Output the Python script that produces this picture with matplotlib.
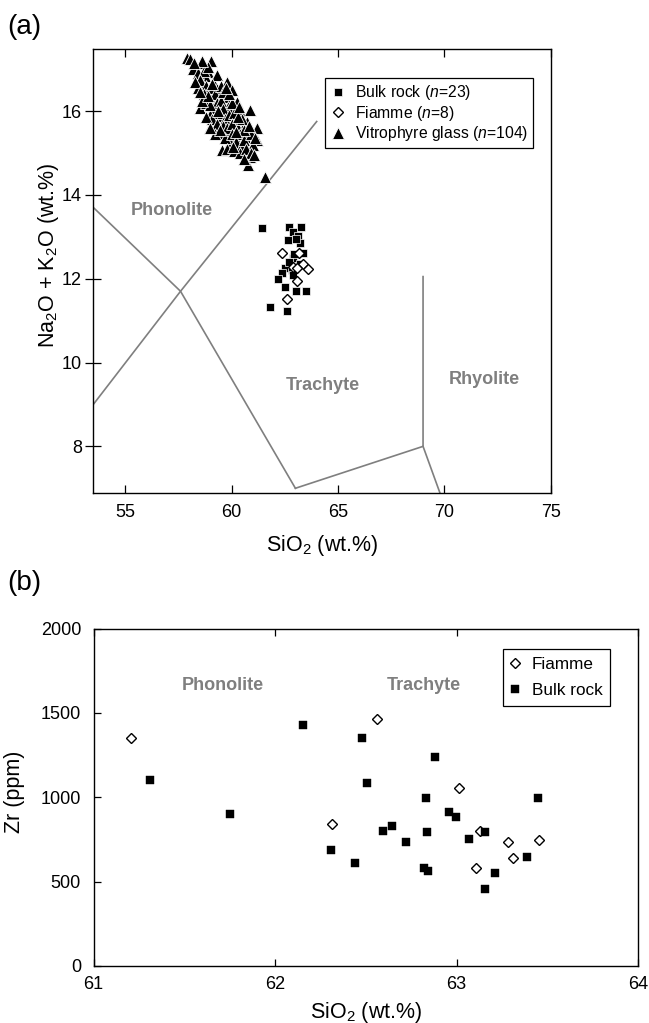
import matplotlib.pyplot as plt

plt.rcParams['font.family'] = ['Liberation Sans', 'DejaVu Sans']
plt.rcParams['mathtext.fontset'] = 'custom'
plt.rcParams['mathtext.rm'] = 'Liberation Sans'
plt.rcParams['mathtext.it'] = 'Liberation Sans:italic'

# ---- (a) TAS: SiO2 vs Na2O + K2O ----
bulk_sio2 = [61.42, 62.72, 63.27, 62.87, 63.14, 62.67, 63.22, 63.37, 62.90, 62.51,
             62.83, 62.39, 62.87, 62.20, 62.51, 63.03, 63.50, 61.81, 62.59, 63.05,
             62.95, 63.20, 62.70]
bulk_alk = [13.20, 13.24, 13.23, 13.12, 13.02, 12.92, 12.84, 12.61, 12.49, 12.25,
            12.21, 12.14, 12.09, 11.99, 11.81, 11.71, 11.71, 11.32, 11.24, 12.95,
            12.60, 12.35, 12.40]

fiamme_sio2 = [62.35, 63.17, 63.37, 63.61, 63.08, 62.62, 62.90, 63.06]
fiamme_alk = [12.61, 12.62, 12.35, 12.23, 11.94, 11.51, 12.29, 12.25]

glass_sio2 = [57.89, 58.05, 58.55, 59.02, 58.91, 58.75, 58.60, 59.14, 59.77, 59.30,
              60.01, 58.60, 58.99, 59.69, 60.24, 58.52, 59.14, 59.85, 60.40, 60.87,
              58.99, 59.54, 60.24, 60.71, 58.99, 59.85, 60.48, 61.18, 59.46, 60.16,
              60.63, 61.18, 59.93, 59.54, 60.79, 60.87, 60.79, 61.57,
              58.20, 58.40, 58.70, 58.50, 58.80, 59.00, 58.40, 58.70, 59.20, 58.80,
              59.30, 59.50, 59.00, 58.60, 59.60, 59.40, 59.10, 58.80, 59.70, 59.90,
              60.10, 60.00, 59.30, 59.60, 59.80, 60.00, 60.30, 60.50, 59.20, 59.70,
              60.00, 60.40, 60.20, 60.50, 59.80, 60.10, 60.40, 60.60, 60.90, 61.00,
              60.70, 60.90, 61.05, 60.60, 59.30, 59.50, 59.60, 59.90, 58.30, 58.90,
              58.60, 58.25, 59.35, 58.90, 60.30, 60.60, 59.45, 59.00, 60.80, 60.35,
              59.75, 59.10, 58.50, 60.20, 60.05, 61.10]
glass_alk = [17.26, 17.24, 17.14, 17.20, 16.92, 16.84, 16.68, 16.70, 16.70, 16.52,
             16.50, 16.50, 16.31, 16.34, 16.22, 16.07, 16.07, 16.10, 15.99, 16.03,
             15.91, 15.87, 15.79, 15.75, 15.63, 15.55, 15.55, 15.59, 15.47, 15.39,
             15.39, 15.31, 15.27, 15.07, 15.07, 14.91, 14.71, 14.43,
             17.00, 16.90, 16.95, 16.75, 16.60, 16.55, 16.55, 16.40, 16.40, 16.20,
             16.20, 16.25, 16.15, 16.25, 16.05, 15.95, 15.80, 15.85, 15.80, 15.90,
             15.95, 16.20, 15.70, 15.65, 15.60, 15.70, 15.60, 15.80, 15.45, 15.35,
             15.45, 15.45, 15.25, 15.20, 15.10, 15.05, 15.00, 15.30, 15.45, 15.20,
             15.10, 15.00, 14.95, 14.85, 16.85, 16.60, 16.45, 16.40, 16.70, 17.05,
             17.20, 17.15, 16.00, 16.35, 15.85, 15.55, 15.55, 15.60, 15.65, 16.10,
             16.55, 16.65, 16.45, 15.50, 15.15, 15.35]

# field boundaries of the TAS diagram
tas_lines = [
    ([53.5, 57.6, 63.0], [13.7, 11.7, 7.0]),
    ([53.5, 57.6, 64.0], [9.0, 11.7, 15.75]),
    ([63.0, 69.0, 69.0], [7.0, 8.0, 12.05]),
    ([69.0, 69.8], [8.0, 6.88]),
]
tas_names = ['Phonolite', 'Trachyte', 'Rhyolite']
tas_name_x = [57.2, 64.3, 71.9]
tas_name_y = [13.62, 9.45, 9.6]

# ---- (b) Zr vs SiO2 ----
zr_fiamme_sio2 = [61.205, 62.316, 62.560, 63.016, 63.129, 63.286, 63.456, 63.313, 63.106]
zr_fiamme = [1353, 841, 1462, 1053, 802, 737, 747, 638, 583]

zr_bulk_sio2 = [61.311, 61.752, 62.156, 62.478, 62.509, 62.307, 62.441, 62.882, 62.830,
                63.447, 62.960, 62.997, 62.646, 62.593, 62.836, 63.157, 62.722, 63.071,
                63.387, 62.821, 62.845, 63.212, 63.157]
zr_bulk = [1100, 901, 1428, 1353, 1083, 687, 612, 1240, 997,
           997, 911, 881, 832, 802, 792, 792, 737, 753,
           648, 583, 563, 553, 456]

zr_names = ['Phonolite', 'Trachyte']
zr_name_x = [61.71, 62.82]
zr_name_y = [1663, 1663]

gray = '#7f7f7f'

fig = plt.figure(figsize=(6.49, 10.23), dpi=100)

# панель (a)
ax1 = fig.add_axes([93.3 / 649, 1 - 493.3 / 1023, 457.4 / 649, 444.3 / 1023])
for xs, ys in tas_lines:
    ax1.plot(xs, ys, '-', color=gray, lw=1.2, zorder=1)
for name, x, y in zip(tas_names, tas_name_x, tas_name_y):
    ax1.text(x, y, name, color=gray, fontsize=13, fontweight='bold',
             ha='center', va='center')

ax1.plot(bulk_sio2, bulk_alk, 's', ms=5.8, mfc='black', mec='white', mew=0.5,
         label='Bulk rock ($\\mathit{n}$=23)', zorder=3)
ax1.plot(fiamme_sio2, fiamme_alk, 'D', ms=5.2, mfc='white', mec='black', mew=1.0,
         label='Fiamme ($\\mathit{n}$=8)', zorder=4)
ax1.plot(glass_sio2, glass_alk, '^', ms=8.4, mfc='black', mec='white', mew=0.6,
         label='Vitrophyre glass ($\\mathit{n}$=104)', zorder=5)

ax1.set_xlim(53.5, 75)
ax1.set_ylim(6.88, 17.48)
ax1.set_xticks([55, 60, 65, 70, 75])
ax1.set_yticks([8, 10, 12, 14, 16])
ax1.tick_params(axis='x', direction='in', top=True, length=6, width=0.9,
                labelsize=13, pad=8)
ax1.tick_params(axis='y', direction='inout', length=11.5, width=0.9,
                labelsize=13, pad=2.5)
ax1.set_xlabel('SiO$_2$ (wt.%)', fontsize=15.5, labelpad=8)
ax1.set_ylabel('Na$_2$O + K$_2$O (wt.%)', fontsize=15.5)
ax1.yaxis.set_label_coords(-0.07, 0.535)
for sp in ax1.spines.values():
    sp.set_linewidth(1.0)
leg1 = ax1.legend(loc='upper left', bbox_to_anchor=(0.507, 0.934), borderaxespad=0,
                  fontsize=11.3, fancybox=False, edgecolor='black', framealpha=1,
                  handlelength=1.0, handletextpad=0.6, borderpad=0.3,
                  labelspacing=0.1)
leg1.get_frame().set_linewidth(0.9)
fig.text(24 / 649, 1 - 27 / 1023, '(a)', fontsize=20, ha='center', va='center')

# панель (b)
ax2 = fig.add_axes([93.5 / 649, 1 - 966 / 1023, 544.5 / 649, 337.5 / 1023])
for name, x, y in zip(zr_names, zr_name_x, zr_name_y):
    ax2.text(x, y, name, color=gray, fontsize=13, fontweight='bold',
             ha='center', va='center')
ax2.plot(zr_fiamme_sio2, zr_fiamme, 'D', ms=4.8, mfc='white', mec='black', mew=1.0,
         label='Fiamme', zorder=3)
ax2.plot(zr_bulk_sio2, zr_bulk, 's', ms=5.5, mfc='black', mec='black', mew=0.3,
         label='Bulk rock', zorder=4)
ax2.set_xlim(61, 64)
ax2.set_ylim(0, 2000)
ax2.set_xticks([61, 62, 63, 64])
ax2.set_yticks([0, 500, 1000, 1500, 2000])
ax2.tick_params(axis='both', direction='in', top=True, length=4.8, width=0.9,
                labelsize=13)
ax2.tick_params(axis='x', pad=7)
ax2.tick_params(axis='y', pad=9)
ax2.set_xlabel('SiO$_2$ (wt.%)', fontsize=15.5, labelpad=5)
ax2.set_ylabel('Zr (ppm)', fontsize=15.5)
ax2.yaxis.set_label_coords(-0.126, 0.516)
for sp in ax2.spines.values():
    sp.set_linewidth(1.0)
leg2 = ax2.legend(loc='upper left', bbox_to_anchor=(0.7526, 0.938), borderaxespad=0,
                  fontsize=12.3, fancybox=False, edgecolor='black', framealpha=1,
                  handlelength=0.5, handletextpad=0.73, borderpad=0.45,
                  labelspacing=0.65)
leg2.get_frame().set_linewidth(0.9)
fig.text(24 / 649, 1 - 583 / 1023, '(b)', fontsize=20, ha='center', va='center')

fig.savefig('out.png', dpi=100)
